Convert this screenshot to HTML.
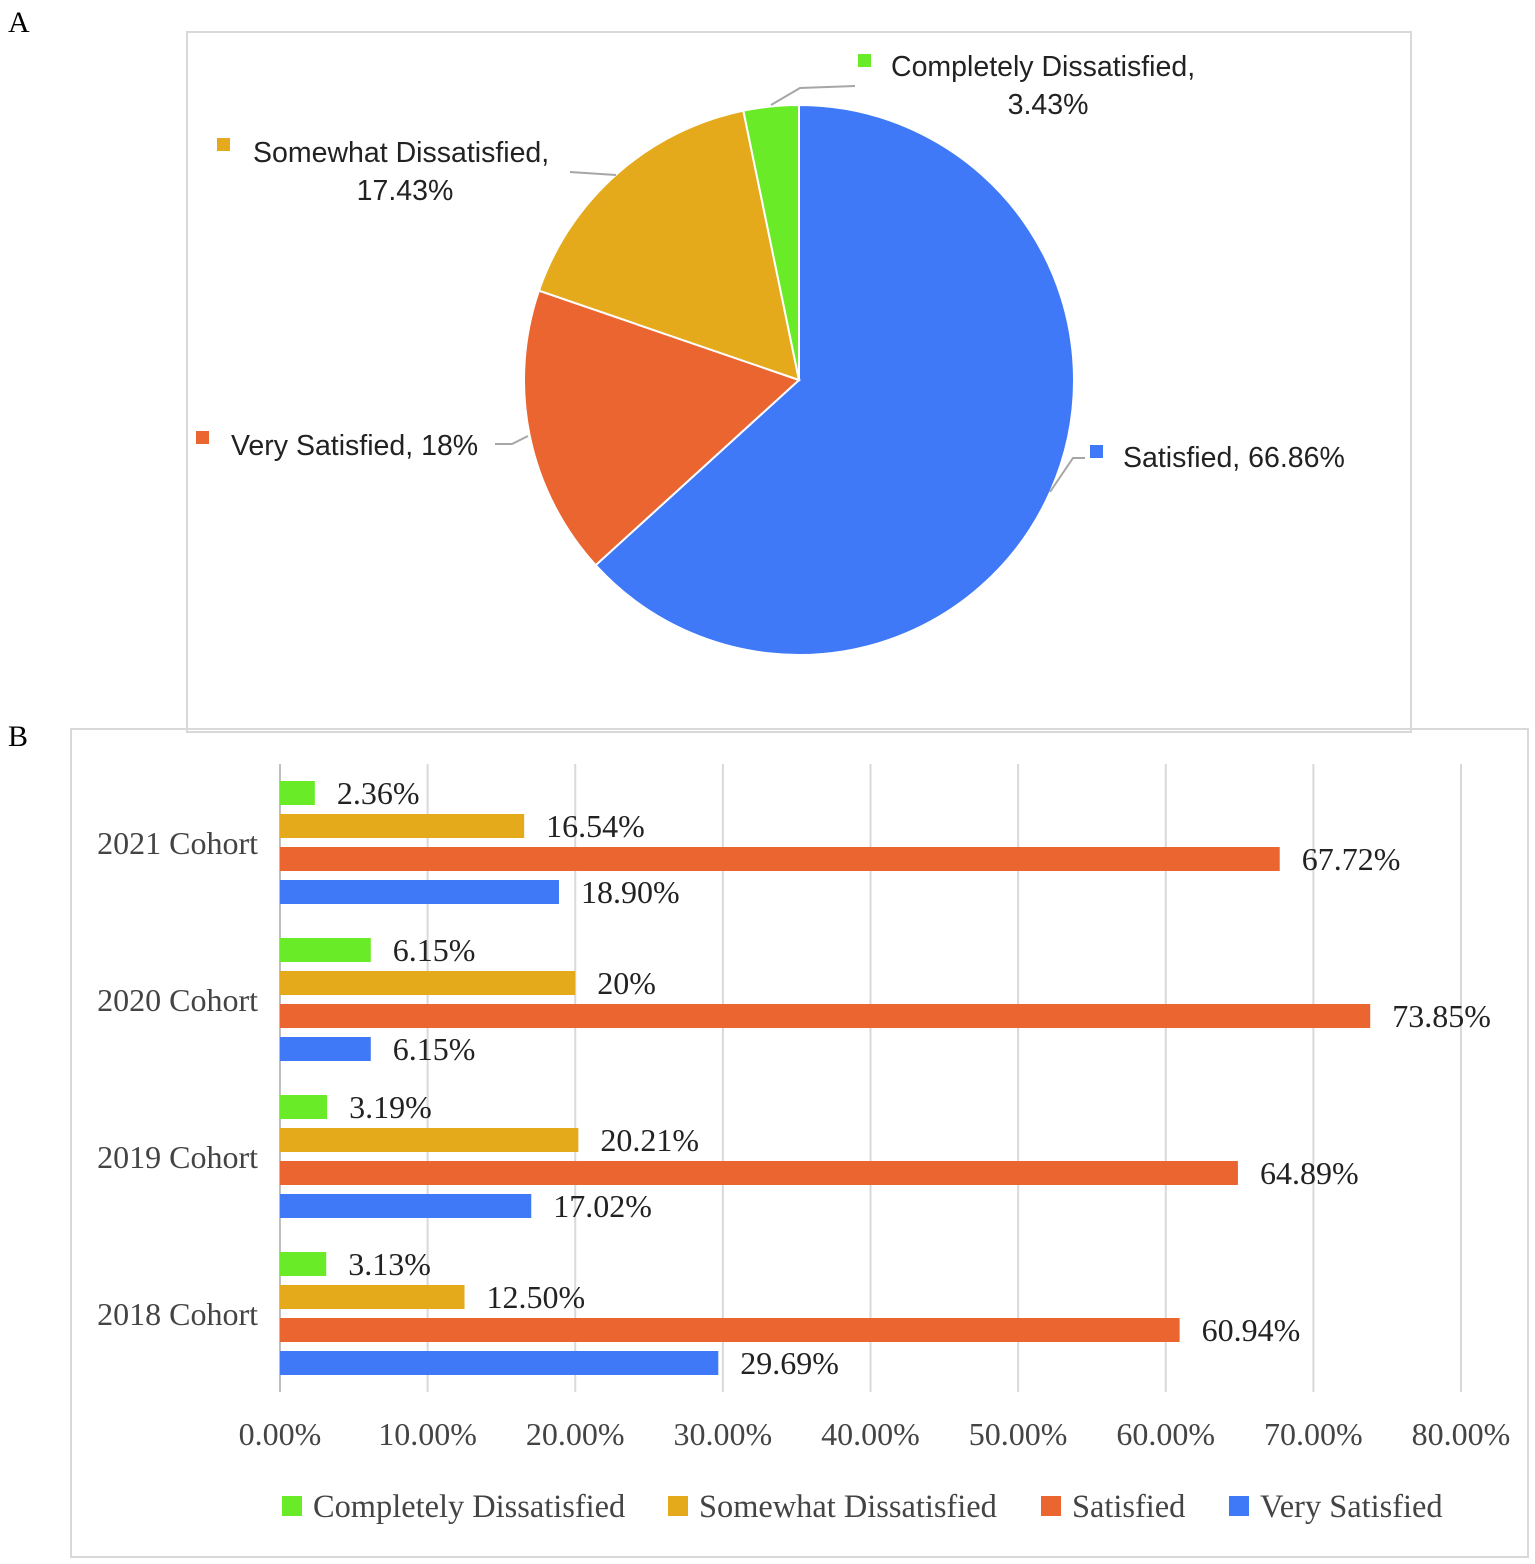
<!DOCTYPE html>
<html><head><meta charset="utf-8"><style>
body{margin:0;background:#fff;width:1535px;height:1564px;overflow:hidden}
svg{display:block}
</style></head><body>
<svg id="chart" width="1535" height="1564" xmlns="http://www.w3.org/2000/svg">
<text x="8" y="32" font-family="Liberation Serif,serif" font-size="30">A</text>
<text x="8" y="746" font-family="Liberation Serif,serif" font-size="30">B</text>
<rect x="187" y="32" width="1224" height="700" fill="none" stroke="#d9d9d9" stroke-width="2"/>
<rect x="71" y="729" width="1457" height="828" fill="none" stroke="#d9d9d9" stroke-width="2"/>
<g id="pie"></g>
<g id="bars"></g>
</svg>
<script>
const NS="http://www.w3.org/2000/svg";
function mk(tag,attrs,parent,text){const e=document.createElementNS(NS,tag);for(const k in attrs)e.setAttribute(k,attrs[k]);if(text!==undefined)e.textContent=text;parent.appendChild(e);return e;}

// Pie data
const pieLabels=["Satisfied","Very Satisfied","Somewhat Dissatisfied","Completely Dissatisfied"];
const pieValues=[66.86,18,17.43,3.43];
const pieText=["66.86%","18%","17.43%","3.43%"];
const pieColors=["#4079f8","#ea6530","#e4aa1b","#6aeb27"];

const pie=document.getElementById('pie');
const cx=799,cy=380,R=275;
const tot=pieValues.reduce((a,b)=>a+b,0);
let a0=0;
pieValues.forEach((v,i)=>{
  const a1=a0+v/tot*2*Math.PI;
  const p=(a)=>[cx+R*Math.sin(a),cy-R*Math.cos(a)];
  const [x0,y0]=p(a0),[x1,y1]=p(a1);
  const large=(a1-a0)>Math.PI?1:0;
  const el=mk('path',{d:`M${cx},${cy}L${x0},${y0}A${R},${R} 0 ${large} 1 ${x1},${y1}Z`,fill:pieColors[i],stroke:"#fff","stroke-width":2},pie);
  
  
  a0=a1;
});
const lines=[
  "M1050,492 L1073,458 L1085,458",
  "M495,444 L512,444 L528,436",
  "M616,175 L570,172",
  "M771,105 L800,88 L855,86"
];
lines.forEach((d,i)=>{const l=mk('path',{d:d,fill:"none",stroke:"#a6a6a6","stroke-width":2},pie);
  });
const labs=[
  {sq:[1090,445],lines:[["Satisfied, "+pieText[0],1123,467,"start"]]},
  {sq:[196,431],lines:[["Very Satisfied, "+pieText[1],231,455,"start"]]},
  {sq:[217,138],lines:[["Somewhat Dissatisfied,",253,162,"start"],[pieText[2],405,200,"middle"]]},
  {sq:[858,54],lines:[["Completely Dissatisfied,",891,76,"start"],[pieText[3],1048,114,"middle"]]}
];
labs.forEach((L,i)=>{
  const g=mk('g',{},pie);
  mk('rect',{x:L.sq[0],y:L.sq[1],width:13,height:13,fill:pieColors[i]},g);
  L.lines.forEach(t=>mk('text',{x:t[1],y:t[2],"text-anchor":t[3],"font-family":"Liberation Sans, sans-serif","font-size":28.5,fill:"#222"},g,t[0]));
});

// Bar data
const cohorts=["2021 Cohort","2020 Cohort","2019 Cohort","2018 Cohort"];
const seriesNames=["Completely Dissatisfied","Somewhat Dissatisfied","Satisfied","Very Satisfied"];
const completelyDissatisfied=[2.36,6.15,3.19,3.13];
const somewhatDissatisfied=[16.54,20,20.21,12.50];
const satisfied=[67.72,73.85,64.89,60.94];
const verySatisfied=[18.90,6.15,17.02,29.69];
const valueLabels=[["2.36%","6.15%","3.19%","3.13%"],["16.54%","20%","20.21%","12.50%"],["67.72%","73.85%","64.89%","60.94%"],["18.90%","6.15%","17.02%","29.69%"]];
const ticks=[0,10,20,30,40,50,60,70,80];
const tickLabels=["0.00%","10.00%","20.00%","30.00%","40.00%","50.00%","60.00%","70.00%","80.00%"];
const series=[completelyDissatisfied,somewhatDissatisfied,satisfied,verySatisfied];
const barColors=["#6aeb27","#e4aa1b","#ea6530","#4079f8"];

const bars=document.getElementById('bars');
const X=(v)=>280+v*(1461-280)/80;
const groupY=(g)=>781+g*157;
const barY=(g,s)=>groupY(g)+s*33;
const serif="Liberation Serif, serif";
ticks.forEach((t,i)=>{
  const l=mk('line',{x1:X(t),x2:X(t),y1:764,y2:1392,stroke:i===0?"#bfbfbf":"#d9d9d9","stroke-width":2},bars);
  
  const tx=mk('text',{x:X(t),y:1445,"text-anchor":"middle","font-family":serif,"font-size":32,fill:"#444"},bars,tickLabels[i]);
  
});
cohorts.forEach((c,g)=>{
  const t=mk('text',{x:258,y:groupY(g)+73,"text-anchor":"end","font-family":serif,"font-size":32,fill:"#444"},bars,c);
  
  series.forEach((arr,s)=>{
    const r=mk('rect',{x:X(0),y:barY(g,s),width:X(arr[g])-X(0),height:24,fill:barColors[s]},bars);
    
    
    const vl=mk('text',{x:X(arr[g])+22,y:barY(g,s)+23,"font-family":serif,"font-size":32,fill:"#222"},bars,valueLabels[s][g]);
    
  });
});
const legX=[282,668,1041,1229];
seriesNames.forEach((n,i)=>{
  const g=mk('g',{},bars);
  mk('rect',{x:legX[i],y:1496,width:20,height:20,fill:barColors[i]},g);
  mk('text',{x:legX[i]+31,y:1517,"font-family":serif,"font-size":32.4,fill:"#444"},g,n);
});
</script>
</body></html>
